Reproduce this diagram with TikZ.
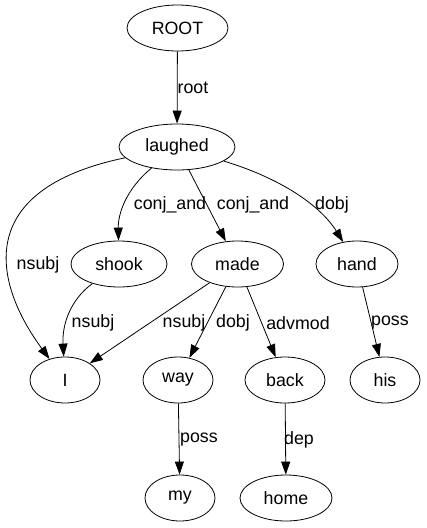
\documentclass[tikz,border=0pt]{standalone}
\usepackage{fontspec}
\setmainfont{Liberation Sans}
\usepackage{tikz}
\usetikzlibrary{shapes.geometric}
\usetikzlibrary{arrows.meta}
\tikzset{word/.style={draw,ellipse,inner sep=0pt,minimum height=46pt,line width=0.8pt},
 arc/.style={draw,line width=0.8pt,-{Triangle[length=13pt,width=9pt]}},
 rel/.style={inner sep=0pt},
 }

\begin{document}
\begin{tikzpicture}[x=1pt,y=-1pt,font=\fontsize{17.8}{20}\selectfont]
        \useasboundingbox (0,0) rectangle (427,528);
        \node[word,minimum width=101pt] (root) at (177.5, 28) {ROOT};
        \node[word,minimum width=116pt] (laughed) at (177, 147) {laughed};
        \node[word,minimum width=96pt] (shook) at (119, 264) {shook};
        \node[word,minimum width=92pt] (made) at (237.5, 264) {made};
        \node[word,minimum width=82pt] (hand) at (357, 264) {hand};
        \node[word,minimum width=70pt] (I) at (65, 380) {I};
        \node[word,minimum width=70pt] (way) at (178, 380) {way};
        \node[word,minimum width=80pt] (back) at (285, 380) {back};
        \node[word,minimum width=70pt] (his) at (385, 380) {his};
        \node[word,minimum width=70pt] (my) at (180, 498) {my};
        \node[word,minimum width=92pt] (home) at (286, 498) {home};
        \draw[arc] (root) -- (laughed);
        \draw[arc] (laughed) .. controls (-30, 190) and (-5, 285) .. (I);
        \draw[arc] (laughed) .. controls (125, 190) and (118, 215) .. (shook);
        \draw[arc] (laughed) -- (made);
        \draw[arc] (laughed) .. controls (280, 178) and (320, 205) .. (hand);
        \draw[arc] (shook) .. controls (70, 300) and (62, 325) .. (I);
        \draw[arc] (made) -- (I);
        \draw[arc] (made) -- (way);
        \draw[arc] (made) -- (back);
        \draw[arc] (hand) -- (his);
        \draw[arc] (way) -- (my);
        \draw[arc] (back) -- (home);
        \node[rel] (lroot) at (193, 88) {root};
        \node[rel] (lnsubj1) at (38, 265) {nsubj};
        \node[rel] (lconj1) at (170, 205) {conj\_and};
        \node[rel] (lconj2) at (253, 205) {conj\_and};
        \node[rel] (ldobj1) at (332, 205) {dobj};
        \node[rel] (lnsubj2) at (93, 323) {nsubj};
        \node[rel] (lnsubj3) at (184, 323) {nsubj};
        \node[rel] (ldobj2) at (233, 323) {dobj};
        \node[rel] (ladvmod) at (298, 323) {advmod};
        \node[rel] (lposs1) at (390, 323) {poss};
        \node[rel] (lposs2) at (199, 440) {poss};
        \node[rel] (ldep) at (299, 440) {dep};
    \end{tikzpicture}
\end{document}
